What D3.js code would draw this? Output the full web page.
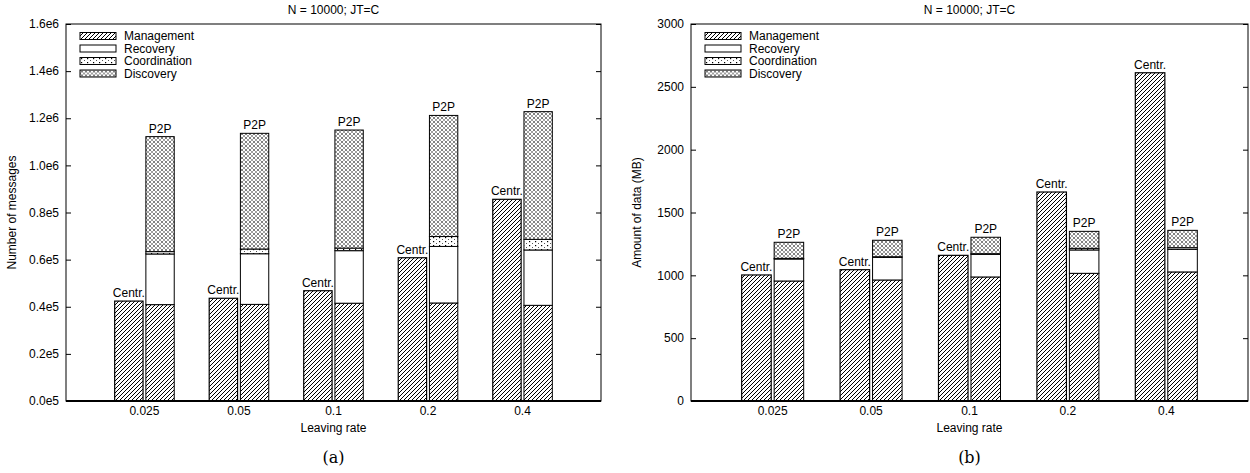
<!DOCTYPE html>
<html>
<head>
<meta charset="utf-8">
<script src="https://cdn.jsdelivr.net/npm/d3@7"></script>
<style>
  body { margin: 0; background: #fff; }
  text { font-family: "Liberation Sans", Arial, sans-serif; fill: #000; }
</style>
</head>
<body>
<div id="canvas"></div>
<script>
// data
var rates = ['0.025', '0.05', '0.1', '0.2', '0.4']
var layers = ['Management', 'Recovery', 'Coordination', 'Discovery']

// (a) number of messages
var msgCentr = [424000, 436000, 468000, 608000, 856000]
var msgMgmt = [409000, 410000, 415000, 416000, 406000]
var msgRecovery = [215000, 215000, 223000, 240000, 235000]
var msgCoord = [10000, 20000, 11000, 42000, 45000]
var msgDiscovery = [488000, 491000, 501000, 514000, 542000]
var msgTicks = [0, 200000, 400000, 600000, 800000, 1000000, 1200000, 1400000, 1600000]
var msgTickLabels = ['0.0e5', '0.2e5', '0.4e5', '0.6e5', '0.8e5', '1.0e6', '1.2e6', '1.4e6', '1.6e6']

// (b) amount of data (MB)
var mbCentr = [1003, 1045, 1159, 1663, 2612]
var mbMgmt = [955, 963, 987, 1016, 1027]
var mbRecovery = [175, 180, 180, 186, 180]
var mbCoord = [5, 5, 5, 13, 13]
var mbDiscovery = [128, 131, 131, 135, 138]
var mbTicks = [0, 500, 1000, 1500, 2000, 2500, 3000]
var mbTickLabels = ['0', '500', '1000', '1500', '2000', '2500', '3000']

var W = 1250, H = 473
var FS = 12

var svg = d3.select('#canvas')
  .append('svg')
  .attr('width', W)
  .attr('height', H)

svg.append('rect').attr('width', W).attr('height', H).attr('fill', '#fff')

// fill patterns
var defs = svg.append('defs')
var p = defs.append('pattern').attr('id', 'pat-mgmt')
  .attr('patternUnits', 'userSpaceOnUse').attr('width', 4).attr('height', 4)
p.append('rect').attr('width', 4).attr('height', 4).attr('fill', '#fff')
p.append('path').attr('d', 'M-1,1 l2,-2 M0,4 l4,-4 M3,5 l2,-2')
  .attr('stroke', '#000').attr('stroke-width', 1)

p = defs.append('pattern').attr('id', 'pat-coord')
  .attr('patternUnits', 'userSpaceOnUse').attr('width', 6).attr('height', 4)
p.append('rect').attr('width', 6).attr('height', 4).attr('fill', '#fff')
p.append('rect').attr('x', 1).attr('y', 1).attr('width', 1.2).attr('height', 1.2).attr('fill', '#000')
p.append('rect').attr('x', 4).attr('y', 3).attr('width', 1).attr('height', 1).attr('fill', '#555')

p = defs.append('pattern').attr('id', 'pat-disc')
  .attr('patternUnits', 'userSpaceOnUse').attr('width', 4).attr('height', 4)
p.append('rect').attr('width', 4).attr('height', 4).attr('fill', '#fff')
p.append('path').attr('d', 'M0,0 l4,4 M4,0 l-4,4')
  .attr('stroke', '#777').attr('stroke-width', 0.7)
p.append('rect').attr('x', 1.5).attr('y', 1.5).attr('width', 1).attr('height', 1).attr('fill', '#222')

var fills = {
  Management: 'url(#pat-mgmt)',
  Recovery: '#fff',
  Coordination: 'url(#pat-coord)',
  Discovery: 'url(#pat-disc)'
}

function drawPanel (cfg) {
  var left = cfg.left, right = cfg.right, top = 24, bottom = 401
  var g = svg.append('g')

  var x = d3.scaleLinear().domain([-0.83, 4.83]).range([left, right])
  var y = d3.scaleLinear().domain([0, cfg.max]).range([bottom, top])
  var bw = x(0.3) - x(0)
  var off = 0.165

  var rows = rates.map((r, i) => ({
    rate: r,
    i: i,
    Management: cfg.mgmt[i],
    Recovery: cfg.rec[i],
    Coordination: cfg.coord[i],
    Discovery: cfg.disc[i]
  }))
  var stack = d3.stack().keys(layers)(rows)

  // centralised bars
  g.append('g').selectAll('rect')
    .data(cfg.centr)
    .enter().append('rect')
    .attr('x', (d, i) => x(i - off) - bw / 2)
    .attr('y', d => y(d))
    .attr('width', bw)
    .attr('height', d => y(0) - y(d))
    .attr('fill', fills.Management)
    .attr('stroke', '#000')
    .attr('stroke-width', 1.2)

  g.append('g').selectAll('text')
    .data(cfg.centr)
    .enter().append('text')
    .attr('x', (d, i) => x(i - off))
    .attr('y', d => y(d) - 4)
    .attr('text-anchor', 'middle')
    .attr('font-size', FS)
    .text('Centr.')

  // p2p stacked bars
  g.append('g').selectAll('g')
    .data(stack)
    .enter().append('g')
    .attr('fill', d => fills[d.key])
    .selectAll('rect')
    .data(d => d)
    .enter().append('rect')
    .attr('x', d => x(d.data.i + off) - bw / 2)
    .attr('y', d => y(d[1]))
    .attr('width', bw)
    .attr('height', d => y(d[0]) - y(d[1]))
    .attr('stroke', '#000')
    .attr('stroke-width', 1)

  var last = stack[stack.length - 1]
  g.append('g').selectAll('text')
    .data(last)
    .enter().append('text')
    .attr('x', d => x(d.data.i + off))
    .attr('y', d => y(d[1]) - 4)
    .attr('text-anchor', 'middle')
    .attr('font-size', FS)
    .text('P2P')

  // frame
  g.append('rect')
    .attr('x', left).attr('y', top)
    .attr('width', right - left).attr('height', bottom - top)
    .attr('fill', 'none').attr('stroke', '#000').attr('stroke-width', 1)
  g.append('line')
    .attr('x1', left).attr('x2', right).attr('y1', bottom).attr('y2', bottom)
    .attr('stroke', '#000').attr('stroke-width', 2)

  // y axes, ticks inward on both sides
  var yl = d3.axisRight(y).tickValues(cfg.ticks).tickSize(5).tickFormat('')
  g.append('g').attr('transform', 'translate(' + left + ',0)').call(yl)
  var yr = d3.axisLeft(y).tickValues(cfg.ticks).tickSize(5).tickFormat('')
  g.append('g').attr('transform', 'translate(' + right + ',0)').call(yr)
  g.selectAll('.domain').remove()

  g.append('g').selectAll('text')
    .data(cfg.ticks)
    .enter().append('text')
    .attr('x', left - 7)
    .attr('y', d => y(d))
    .attr('dy', '0.35em')
    .attr('text-anchor', 'end')
    .attr('font-size', FS)
    .text((d, i) => cfg.tickLabels[i])

  // x labels
  g.append('g').selectAll('text')
    .data(rates)
    .enter().append('text')
    .attr('x', (d, i) => x(i))
    .attr('y', 415)
    .attr('text-anchor', 'middle')
    .attr('font-size', FS)
    .text(d => d)

  var cx = (left + right) / 2
  g.append('text').attr('x', cx).attr('y', 432).attr('text-anchor', 'middle')
    .attr('font-size', FS).text('Leaving rate')
  g.append('text').attr('x', cx).attr('y', 14).attr('text-anchor', 'middle')
    .attr('font-size', FS).text('N = 10000; JT=C')
  g.append('text').attr('x', cx).attr('y', 463).attr('text-anchor', 'middle')
    .attr('font-size', 16).style('font-family', '"DejaVu Serif", "Liberation Serif", serif')
    .text(cfg.caption)
  g.append('text')
    .attr('transform', 'translate(' + cfg.ylabelX + ',' + (top + bottom) / 2 + ') rotate(-90)')
    .attr('text-anchor', 'middle')
    .attr('font-size', FS)
    .text(cfg.ylabel)

  // legend
  var lg = g.append('g').selectAll('g')
    .data(layers)
    .enter().append('g')
    .attr('transform', (d, i) => 'translate(' + (left + 14) + ',' + (36 + i * 12.5) + ')')
  lg.append('rect')
    .attr('x', 0).attr('y', -3.5).attr('width', 36).attr('height', 7)
    .attr('fill', d => fills[d]).attr('stroke', '#000').attr('stroke-width', 1)
  lg.append('text')
    .attr('x', 44).attr('dy', '0.35em')
    .attr('font-size', FS)
    .text(d => d)
}

drawPanel({
  left: 66, right: 601, max: 1600000,
  centr: msgCentr, mgmt: msgMgmt, rec: msgRecovery, coord: msgCoord, disc: msgDiscovery,
  ticks: msgTicks, tickLabels: msgTickLabels,
  ylabel: 'Number of messages', ylabelX: 16, caption: '(a)'
})

drawPanel({
  left: 691, right: 1248, max: 3000,
  centr: mbCentr, mgmt: mbMgmt, rec: mbRecovery, coord: mbCoord, disc: mbDiscovery,
  ticks: mbTicks, tickLabels: mbTickLabels,
  ylabel: 'Amount of data (MB)', ylabelX: 641, caption: '(b)'
})
</script>
</body>
</html>
